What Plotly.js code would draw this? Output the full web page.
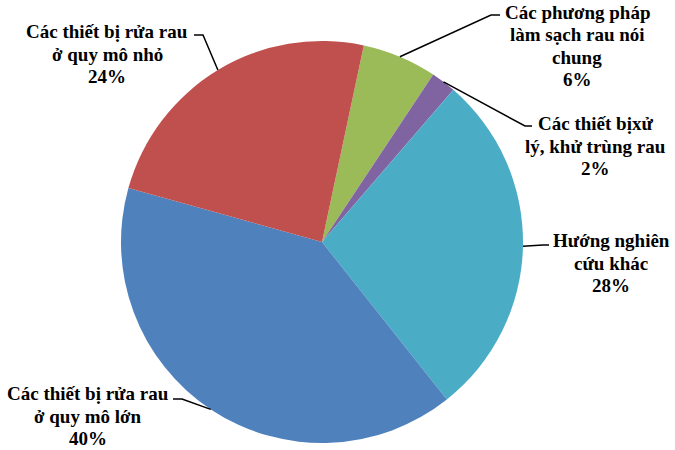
<!DOCTYPE html>
<html>
<head>
<meta charset="utf-8">
<script src="https://cdn.plot.ly/plotly-3.0.1.min.js"></script>
<style>
  html, body { margin: 0; padding: 0; background: #ffffff; }
  #chart { width: 675px; height: 450px; }
</style>
</head>
<body>
<div id="chart"></div>
<script>
// Research directions for vegetable washing / cleaning equipment (share, %)
const labels = [
  ["Các phương pháp", "làm sạch rau nói", "chung"],
  ["Các thiết bịxử", "lý, khử trùng rau"],
  ["Hướng nghiên", "cứu khác"],
  ["Các thiết bị rửa rau", "ở quy mô lớn"],
  ["Các thiết bị rửa rau", "ở quy mô nhỏ"]
];
const values = [6, 2, 28, 40, 24];
const colors = ["#9BBB59", "#8064A2", "#4BACC6", "#4F81BD", "#C0504D"];

// Page geometry (pixels)
const W = 675, H = 450;
const CX = 322, CY = 242, R = 201;
const ROTATION = 12;
const FONT_SIZE = 19;
const LINE_GAP = 22.5;

// Label block centres and leader-line elbows / tick ends, per slice (pixels)
const labelPos = [[577, 46], [595, 146], [611, 263], [88, 416], [107, 54]];
const elbows   = [[491, 15], [525, 126], [543, 245], [182, 399], [203, 35]];
const tickEnds = [[500, 15], [532, 126], [549, 245], [173, 399], [194, 35]];

const px = x => x / W;
const py = y => 1 - y / H;

const total = values.reduce((a, b) => a + b, 0);
let cum = 0;
const annotations = [];
const shapes = [];
values.forEach((v, i) => {
  const mid = ROTATION + (cum + v / 2) / total * 360;
  cum += v;
  const a = mid * Math.PI / 180;
  const ex = CX + R * Math.sin(a), ey = CY - R * Math.cos(a);
  shapes.push({
    type: "path", xref: "paper", yref: "paper",
    path: `M ${px(ex)} ${py(ey)} L ${px(elbows[i][0])} ${py(elbows[i][1])} L ${px(tickEnds[i][0])} ${py(tickEnds[i][1])}`,
    line: { color: "#000000", width: 1.5 }
  });
  const lines = labels[i].concat([Math.round(v / total * 100) + "%"]);
  lines.forEach((t, k) => {
    const yc = labelPos[i][1] + (k - (lines.length - 1) / 2) * LINE_GAP;
    annotations.push({
      xref: "paper", yref: "paper",
      x: px(labelPos[i][0]), y: py(yc),
      xanchor: "center", yanchor: "middle", align: "center",
      showarrow: false,
      text: t,
      font: { family: "Liberation Serif", size: FONT_SIZE, color: "#000000", weight: "bold" }
    });
  });
});

const data = [{
  type: "pie",
  values: values,
  labels: labels.map(l => l.join(" ")),
  sort: false,
  direction: "clockwise",
  rotation: ROTATION,
  textinfo: "none",
  hoverinfo: "none",
  marker: { colors: colors, line: { width: 0 } },
  domain: {
    x: [px(CX - R), px(CX + R)],
    y: [py(CY + R), py(CY - R)]
  }
}];

const layout = {
  width: W, height: H,
  margin: { l: 0, r: 0, t: 0, b: 0 },
  paper_bgcolor: "#ffffff",
  showlegend: false,
  annotations: annotations,
  shapes: shapes
};

Plotly.newPlot("chart", data, layout, { displayModeBar: false, staticPlot: true });
</script>
</body>
</html>
